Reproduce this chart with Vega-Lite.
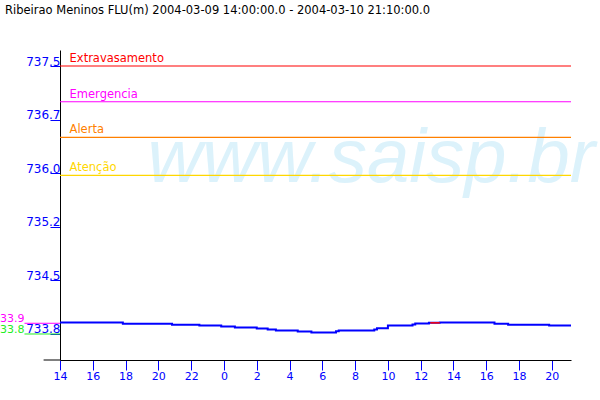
{
  "$schema": "https://vega.github.io/schema/vega-lite/v6.json",
  "autosize": {"type": "none"},
  "padding": {"left": 60, "top": 50, "right": 29, "bottom": 40},
  "width": 511,
  "height": 310,
  "background": "white",
  "title": {
    "text": "Ribeirao Meninos FLU(m) 2004-03-09 14:00:00.0 - 2004-03-10 21:10:00.0",
    "anchor": "start",
    "frame": "group",
    "dx": -55,
    "offset": 34,
    "font": "DejaVu Sans",
    "fontSize": 11.5,
    "fontWeight": "normal",
    "color": "black"
  },
  "config": {
    "view": {"stroke": null},
    "axis": {"grid": false, "labelFont": "DejaVu Sans"}
  },
  "encoding": {
    "x": {
      "field": "h", "type": "quantitative",
      "scale": {"domain": [0, 31.1667], "nice": false, "zero": false},
      "axis": {
        "title": null,
        "values": [0, 2, 4, 6, 8, 10, 12, 14, 16, 18, 20, 22, 24, 26, 28, 30],
        "labelExpr": "'' + ((datum.value + 14) % 24)",
        "domainColor": "black",
        "tickColor": "#0000ff",
        "tickSize": 10,
        "labelColor": "#0000ff",
        "labelFontSize": 11,
        "labelPadding": 0,
        "labelDx": 2,
        "labelOverlap": false,
        "labelFlush": false
      }
    },
    "y": {
      "field": "v", "type": "quantitative",
      "scale": {"domain": [733.386, 737.724], "nice": false, "zero": false},
      "axis": {
        "title": null,
        "values": [733.75, 734.5, 735.25, 736.0, 736.75, 737.5],
        "labelExpr": "datum.value == 733.75 ? '733.8' : datum.value == 735.25 ? '735.2' : datum.value == 736.75 ? '736.7' : format(datum.value, '.1f')",
        "domainColor": "black",
        "tickColor": "#0000ff",
        "tickSize": 10,
        "labelColor": "#0000ff",
        "labelFontSize": 12,
        "labelPadding": -10,
        "labelBaseline": "alphabetic",
        "labelOffset": -1,
        "labelOverlap": false,
        "labelBound": false,
        "labelFlush": false
      }
    }
  },
  "layer": [
    {
      "data": {"values": [{"h": 5.333, "v": 735.878, "label": "www.saisp.br"}]},
      "mark": {"type": "text", "font": "Liberation Sans", "fontStyle": "italic", "fontSize": 76, "align": "left", "baseline": "alphabetic", "color": "#dcf2fb"},
      "encoding": {"text": {"field": "label", "type": "nominal"}}
    },
    {
      "data": {"values": [
        {"name": "Extravasamento", "v": 737.5, "h": 0.583, "hs": 0, "he": 31.1667},
        {"name": "Emergencia", "v": 737.0, "h": 0.583, "hs": 0, "he": 31.1667},
        {"name": "Alerta", "v": 736.5, "h": 0.583, "hs": 0, "he": 31.1667},
        {"name": "Atenção", "v": 735.97, "h": 0.583, "hs": 0, "he": 31.1667}
      ]},
      "layer": [
        {
          "mark": {"type": "rule", "strokeWidth": 1.2},
          "encoding": {
            "x": {"field": "hs", "type": "quantitative"},
            "x2": {"field": "he"},
            "color": {"field": "name", "type": "nominal", "legend": null,
              "scale": {"domain": ["Extravasamento", "Emergencia", "Alerta", "Atenção", "max", "min"], "range": ["#ff0000", "#ff00ff", "#ff8000", "#ffd700", "#ff00ff", "#22ee22"]}}
          }
        },
        {
          "mark": {"type": "text", "align": "left", "baseline": "alphabetic", "dy": -4, "font": "DejaVu Sans", "fontSize": 11.5},
          "encoding": {
            "text": {"field": "name", "type": "nominal"},
            "color": {"field": "name", "type": "nominal", "legend": null}
          }
        }
      ]
    },
    {
      "data": {"values": [
        {"name": "max", "label": "733.9", "v": 733.90, "h": -2.167, "h2": 0},
        {"name": "min", "label": "733.8", "v": 733.75, "h": -2.167, "h2": 0}
      ]},
      "layer": [
        {
          "mark": {"type": "rule", "strokeWidth": 1},
          "encoding": {
            "x2": {"field": "h2"},
            "color": {"field": "name", "type": "nominal", "legend": null}
          }
        },
        {
          "mark": {"type": "text", "align": "right", "baseline": "alphabetic", "dy": -1, "font": "DejaVu Sans", "fontSize": 11},
          "encoding": {
            "text": {"field": "label", "type": "nominal"},
            "color": {"field": "name", "type": "nominal", "legend": null}
          }
        }
      ]
    },
    {
      "data": {"values": [{"h": -1, "h2": 0, "v": 733.386}]},
      "mark": {"type": "rule", "color": "black", "strokeWidth": 1},
      "encoding": {"x2": {"field": "h2"}}
    },
    {
      "data": {"values": [
        {"h": 0, "v": 733.910},
        {"h": 3.833, "v": 733.892},
        {"h": 6.833, "v": 733.878},
        {"h": 8.5, "v": 733.868},
        {"h": 9.833, "v": 733.854},
        {"h": 10.667, "v": 733.840},
        {"h": 12, "v": 733.826},
        {"h": 12.667, "v": 733.812},
        {"h": 13.167, "v": 733.798},
        {"h": 14.5, "v": 733.784},
        {"h": 15.333, "v": 733.770},
        {"h": 16.833, "v": 733.790},
        {"h": 17, "v": 733.798},
        {"h": 19.167, "v": 733.812},
        {"h": 19.333, "v": 733.831},
        {"h": 20, "v": 733.868},
        {"h": 21.5, "v": 733.882},
        {"h": 21.667, "v": 733.896},
        {"h": 22.5, "v": 733.906},
        {"h": 23.167, "v": 733.910},
        {"h": 26.5, "v": 733.892},
        {"h": 27.333, "v": 733.878},
        {"h": 29.833, "v": 733.868},
        {"h": 31.167, "v": 733.868}
      ]},
      "mark": {"type": "line", "interpolate": "step-after", "color": "#0000ff", "strokeWidth": 2},
      "encoding": {}
    },
    {
      "data": {"values": [{"h": 22.583, "h2": 23.167, "v": 733.906}]},
      "mark": {"type": "rule", "color": "#ff0000", "strokeWidth": 1.5},
      "encoding": {"x2": {"field": "h2"}}
    }
  ]
}
